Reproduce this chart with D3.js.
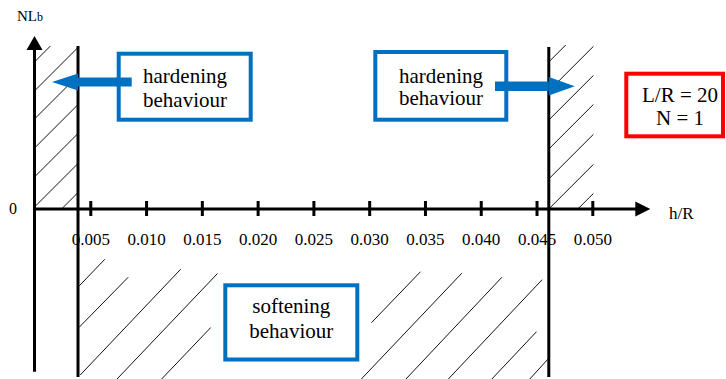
<!DOCTYPE html>
<html>
<head>
<meta charset="utf-8">
<script src="https://cdn.jsdelivr.net/npm/d3@7"></script>
<style>
  html, body { margin: 0; padding: 0; background: #fff; }
  svg { display: block; font-family: "Liberation Serif", "Times New Roman", serif; }
</style>
</head>
<body>
<svg id="chart" width="726" height="379"></svg>
<script>
// h/R axis ticks
const tickValues = [0.005, 0.010, 0.015, 0.020, 0.025, 0.030, 0.035, 0.040, 0.045, 0.050];
const tickLabels = ["0.005", "0.010", "0.015", "0.020", "0.025", "0.030", "0.035", "0.040", "0.045", "0.050"];

// critical h/R values bounding the softening range
const criticalHR = [0.0039, 0.0461];

// 45° hatch strokes in the hardening strips: NLb where each stroke leaves the strip's left edge
const leftHatch = [0.886, 0.711, 0.542, 0.367, 0.193, 0.012, -0.163];
const rightHatch = [0.886, 0.711, 0.536, 0.361, 0.181, 0.0, -0.175];

// hatch strokes in the softening range: [h/R start, NLb start, h/R end, NLb end]
const softHatch = [
  [0.0040, -0.464, 0.0063, -0.303],
  [0.0040, -0.713, 0.0084, -0.411],
  [0.0041, -1.000, 0.0131, -0.363],
  [0.0074, -1.024, 0.0164, -0.389],
  [0.0114, -1.024, 0.0158, -0.714],
  [0.0302, -0.685, 0.0346, -0.378],
  [0.0293, -1.024, 0.0383, -0.387],
  [0.0333, -1.024, 0.0419, -0.411],
  [0.0371, -1.024, 0.0455, -0.426],
  [0.0410, -1.024, 0.0450, -0.739],
  [0.0444, -1.024, 0.0461, -0.899]
];

const hardeningText = ["hardening", "behaviour"];
const softeningText = ["softening", "behaviour"];
const paramText = ["L/R = 20", "N = 1"];

const BLUE = "#0070C0";
const RED = "#FF0000";

const svg = d3.select("#chart");
const x = d3.scaleLinear().domain([0, 0.05]).range([34.5, 592.3]);
const y = d3.scaleLinear().domain([-1, 1]).range([375, 43]);

const x0 = x(0), y0 = y(0);
const xL = x(criticalHR[0]), xR = x(criticalHR[1]);

// ---- hatching ----
const defs = svg.append("defs");
defs.append("clipPath").attr("id", "clipLeft")
  .append("rect").attr("x", x0).attr("y", y(0.982))
  .attr("width", xL - x0).attr("height", y0 - y(0.982));
defs.append("clipPath").attr("id", "clipRight")
  .append("rect").attr("x", xR).attr("y", y(0.988))
  .attr("width", x(0.0501) - xR).attr("height", y0 - y(0.988));

function strip(data, left, clip) {
  svg.append("g").attr("clip-path", `url(#${clip})`)
    .selectAll("line").data(data).join("line")
    .attr("x1", left).attr("y1", d => y(d))
    .attr("x2", left + 200).attr("y2", d => y(d) - 200)
    .attr("stroke", "#111").attr("stroke-width", 1);
}
strip(leftHatch, x0, "clipLeft");
strip(rightHatch, xR, "clipRight");

svg.append("g").selectAll("line").data(softHatch).join("line")
  .attr("x1", d => x(d[0])).attr("y1", d => y(d[1]))
  .attr("x2", d => x(d[2])).attr("y2", d => y(d[3]))
  .attr("stroke", "#111").attr("stroke-width", 1);

// ---- axes ----
const axis = d3.axisBottom(x)
  .tickValues(tickValues)
  .tickFormat((d, i) => tickLabels[i])
  .tickSize(15);
const gx = svg.append("g").attr("transform", `translate(0,${y0})`).call(axis);
gx.select(".domain").remove();
gx.selectAll(".tick line")
  .attr("y1", -8).attr("y2", 7)
  .attr("stroke", "#000").attr("stroke-width", 3);
gx.selectAll(".tick text")
  .attr("y", 36).attr("dy", null)
  .attr("fill", "#000")
  .style("font-size", "17px")
  .style("font-family", "'Liberation Serif', 'Times New Roman', serif");

// horizontal axis line and arrow
const xTip = x(0.0552);
svg.append("line").attr("x1", x0).attr("y1", y0).attr("x2", xTip - 10).attr("y2", y0)
  .attr("stroke", "#000").attr("stroke-width", 3);
svg.append("path")
  .attr("d", `M${xTip},${y0} L${xTip - 15},${y0 - 7.5} L${xTip - 15},${y0 + 7.5} Z`)
  .attr("fill", "#000");

// vertical axis line and arrow
const yTip = y(1.042);
svg.append("line").attr("x1", x0).attr("y1", yTip + 10).attr("x2", x0).attr("y2", y(-0.98))
  .attr("stroke", "#000").attr("stroke-width", 3);
svg.append("path")
  .attr("d", `M${x0},${yTip} L${x0 - 8},${yTip + 14} L${x0 + 8},${yTip + 14} Z`)
  .attr("fill", "#000");

// boundary lines at the critical h/R values
svg.append("g").selectAll("line").data(criticalHR).join("line")
  .attr("x1", d => x(d)).attr("x2", d => x(d))
  .attr("y1", (d, i) => y(i === 0 ? 0.982 : 0.976)).attr("y2", y(-1.012))
  .attr("stroke", "#000").attr("stroke-width", 3);

// axis titles
svg.append("text").attr("x", 13).attr("y", y0 + 4.5)
  .attr("text-anchor", "middle").style("font-size", "16px").text("0");
svg.append("text").attr("x", 669).attr("y", y0 + 10)
  .style("font-size", "17px").text("h/R");
const yt = svg.append("text").attr("x", 17).attr("y", 21).style("font-size", "15px");
yt.append("tspan").text("NL");
yt.append("tspan").style("font-size", "12px").text("b");

// ---- annotation boxes ----
function box(x1, y1, x2, y2, color, sw) {
  svg.append("rect")
    .attr("x", x1 + sw / 2).attr("y", y1 + sw / 2)
    .attr("width", x2 - x1 - sw).attr("height", y2 - y1 - sw)
    .attr("fill", "#fff").attr("stroke", color).attr("stroke-width", sw);
}
function lines(txt, cx, ys, size) {
  txt.forEach((t, i) => {
    svg.append("text").attr("x", cx).attr("y", ys[i])
      .attr("text-anchor", "middle").style("font-size", size + "px").attr("fill", "#000").text(t);
  });
}

// left hardening arrow
svg.append("rect").attr("x", xL).attr("y", 77.5).attr("width", 131.7 - xL).attr("height", 9).attr("fill", BLUE);
svg.append("path").attr("d", `M${xL - 26},82 L${xL},73.5 L${xL},90.5 Z`).attr("fill", BLUE);
box(116.7, 51.7, 252.7, 121.7, BLUE, 4);
svg.append("rect").attr("x", 116.7).attr("y", 77.5).attr("width", 15).attr("height", 9).attr("fill", BLUE);
lines(hardeningText, 185, [83, 106.5], 21);

// right hardening arrow
box(373.3, 50, 508.3, 121.7, BLUE, 4);
svg.append("rect").attr("x", 495).attr("y", 81.5).attr("width", xR - 495).attr("height", 9.5).attr("fill", BLUE);
svg.append("path").attr("d", `M${xR + 26},86.2 L${xR},77 L${xR},95.4 Z`).attr("fill", BLUE);
lines(hardeningText, 441, [82.7, 105], 21);

// softening box
box(223.3, 283.3, 359.3, 361.5, BLUE, 4);
lines(softeningText, 291.3, [313, 338], 21);

// parameter box
box(624.3, 71.7, 725, 138.3, RED, 4);
lines(paramText, 680, [101.7, 125], 21);
</script>
</body>
</html>
